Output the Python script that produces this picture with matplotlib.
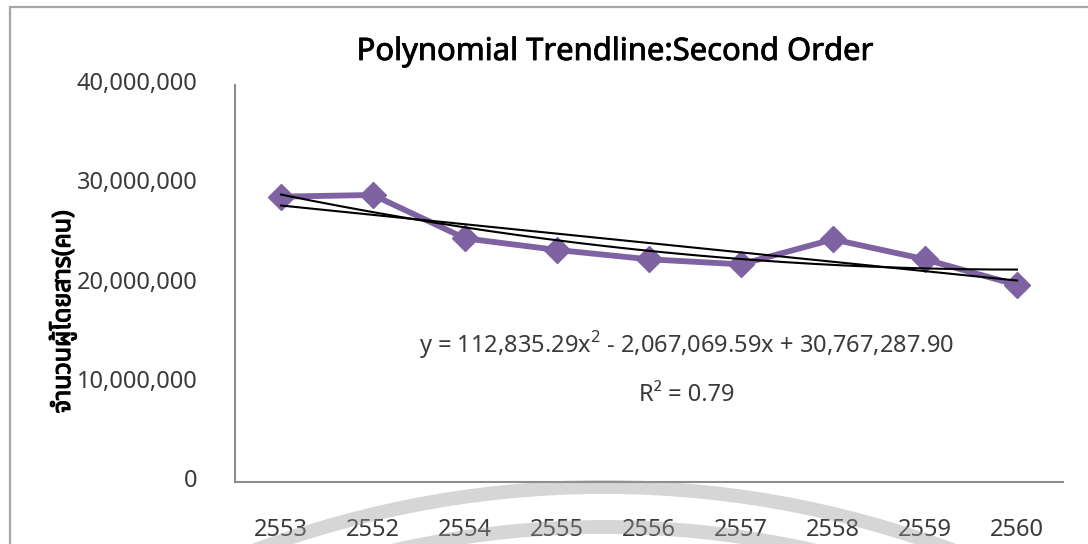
import matplotlib
matplotlib.use("Agg")
import matplotlib.pyplot as plt
import matplotlib.transforms as mtransforms
import matplotlib.patheffects as pe
import numpy as np
from matplotlib.patches import Rectangle, Ellipse
from matplotlib import font_manager

years = ["2553", "2552", "2554", "2555", "2556", "2557", "2558", "2559", "2560"]
passengers = [28750000, 28920000, 24550000, 23380000, 22440000, 21930000, 24450000, 22440000, 19850000]
yticks = [0, 10000000, 20000000, 30000000, 40000000]
title_text = "Polynomial Trendline:Second Order"
ylabel_text = "จำนวนผู้โดยสาร(คน)"
eq_text = "y = 112,835.29x$^{2}$ - 2,067,069.59x + 30,767,287.90"
r2_text = "R² = 0.79"

avail = {f.name for f in font_manager.fontManager.ttflist}
thai_candidates = [n for n in ["Noto Sans Thai", "Noto Sans Thai UI", "Noto Serif Thai", "Loma", "Garuda", "Norasi", "Tlwg Typo", "Kinnari", "Sawasdee", "Umpush", "Waree", "Laksaman"] if n in avail]
base = "Noto Sans" if "Noto Sans" in avail else "DejaVu Sans"
fam = thai_candidates[:1] + [base, "DejaVu Sans"]
plt.rcParams['font.family'] = fam
plt.rcParams['mathtext.fontset'] = 'custom'
plt.rcParams['mathtext.rm'] = base

fig = plt.figure(figsize=(10.88, 5.44), dpi=100)
W, H = 1088, 544

def fx(px):
    return px / W
def fy(py):
    return 1 - py / H

# figure border
fig.add_artist(Rectangle((fx(10), fy(600)), 1.2, (600 - 7) / H, transform=fig.transFigure,
                         fill=False, edgecolor="#a6a6a6", linewidth=1.6, zorder=0))

ax = fig.add_axes([fx(235), fy(482), fx(1063) - fx(235), fy(85) - fy(482)])
ax.set_facecolor("none")
x = np.arange(len(years))
ax.plot(x, passengers, color="#7f62a1", linewidth=4.2, marker="D", markersize=13,
        markeredgecolor="#7f62a1", markerfacecolor="#7f62a1", zorder=2, solid_joinstyle="miter")

xf = x + 1
xx = np.linspace(1, len(years), 200)
lin = np.polyfit(xf, passengers, 1)
quad = np.polyfit(xf, passengers, 2)
ax.plot(xx - 1, np.polyval(lin, xx), color="black", linewidth=1.5, zorder=3)
ax.plot(xx - 1, np.polyval(quad, xx), color="black", linewidth=1.5, zorder=3)

ax.set_xlim(-0.5, len(years) - 0.5)
ax.set_ylim(0, 40000000)
ax.set_xticks(x)
ax.set_xticklabels(years)
ax.set_yticks(yticks)
ax.set_yticklabels([f"{v:,}" for v in yticks])
ax.tick_params(axis="both", length=0, labelsize=17, colors="#3a3a3a")
ax.tick_params(axis="y", pad=27)
ax.tick_params(axis="x", pad=26)
shift_up = mtransforms.ScaledTranslation(0, 4 / 100, fig.dpi_scale_trans)
for lab in ax.get_yticklabels():
    lab.set_transform(lab.get_transform() + shift_up)
for s in ["top", "right"]:
    ax.spines[s].set_visible(False)
for s in ["left", "bottom"]:
    ax.spines[s].set_color("#8c8c8c")
    ax.spines[s].set_linewidth(1.5)

fig.text(fx(615), fy(52), title_text, ha="center", va="center", fontsize=22.3, color="black",
         family=[base, "DejaVu Sans"],
         path_effects=[pe.withStroke(linewidth=0.6, foreground="black")])
fig.text(fx(63), fy(312), ylabel_text, ha="center", va="center", rotation=90, fontsize=18,
         fontweight="bold", color="black",
         path_effects=[pe.withStroke(linewidth=0.9, foreground="black")])
fig.text(fx(687), fy(345), eq_text, ha="center", va="center", fontsize=17, color="#3a3a3a")
fig.text(fx(687), fy(395), r2_text, ha="center", va="center", fontsize=17, color="#3a3a3a")

# faint watermark arcs
for r in (995, 955):
    fig.add_artist(Ellipse((fx(604), fy(1482)), 2 * r / W, 2 * r / H, transform=fig.transFigure, fill=False,
                           edgecolor="#9a9a9a", linewidth=10, alpha=0.4, zorder=5))

fig.savefig("out.png", dpi=100)
